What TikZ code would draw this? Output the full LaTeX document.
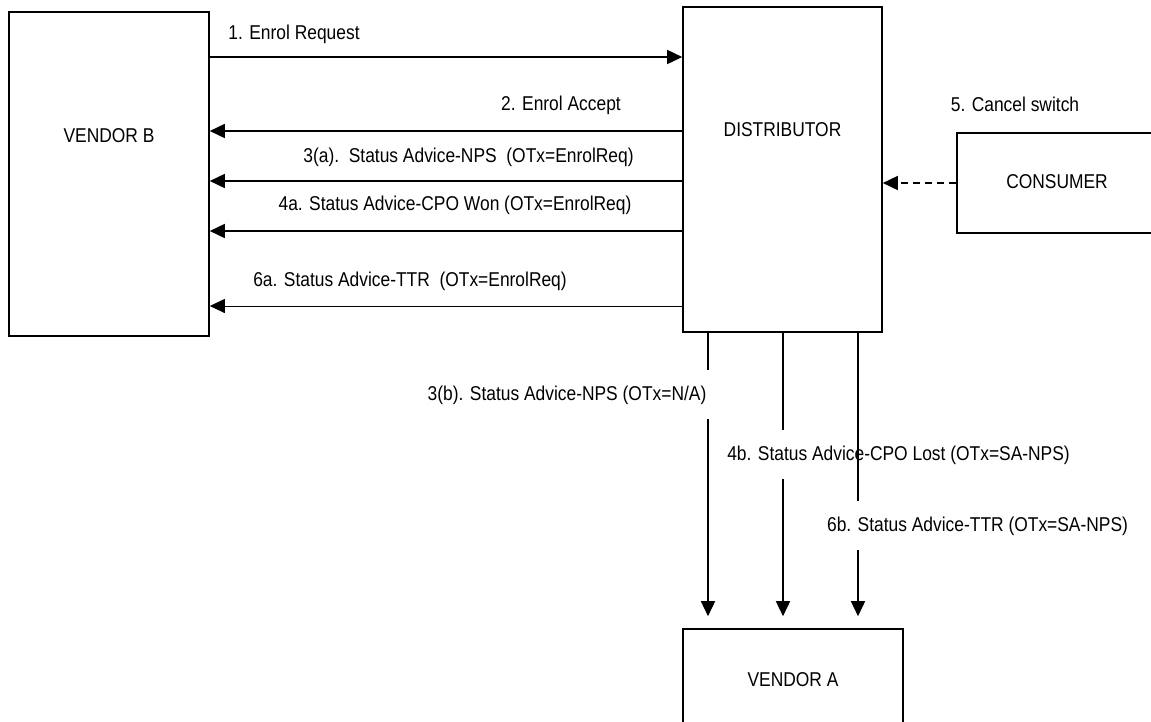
\documentclass[tikz,border=0pt]{standalone}
\usepackage{fontspec}
\setmainfont{Liberation Sans}[FakeStretch=0.87]
\usepackage{tikz}
\usetikzlibrary{positioning,arrows.meta,calc}

\begin{document}
\begin{tikzpicture}[x=1pt,y=-1pt,
  box/.style={draw, line width=1.6pt, inner sep=0pt},
  msg/.style={line width=1.6pt, -{Triangle[length=15pt,width=14pt]}},
  lbl/.style={anchor=base, font=\fontsize{20}{24}\selectfont, inner sep=0pt},
  cut/.style={lbl, fill=white, text height=15pt, text depth=4pt, inner xsep=3pt, inner ysep=15pt}]
\useasboundingbox (0,0) rectangle (1151,721);

% The four parties
\node[box, minimum width=200pt, minimum height=324pt] (vendorb) at (109,174) {};
\node[box, minimum width=199pt, minimum height=325pt] (dist) at (782.5,169.5) {};
\node[box, minimum width=200pt, minimum height=100pt] (consumer) at (1057,183) {};
\node[box, minimum width=220pt, minimum height=98pt] (vendora) at (793,678) {};

\node[lbl] (vbname) at (109,142) {VENDOR B};
\node[lbl] (distname) at (782.5,136) {DISTRIBUTOR};
\node[lbl] (consname) at (1057,188) {CONSUMER};
\node[lbl] (vaname) at (793,686) {VENDOR A};

% Messages between vendor B and the distributor
\draw[msg] (vendorb.east |- 0,57) -- (dist.west |- 0,57);
\draw[msg] (dist.west |- 0,131) -- (vendorb.east |- 0,131);
\draw[msg] (dist.west |- 0,181) -- (vendorb.east |- 0,181);
\draw[msg] (dist.west |- 0,231) -- (vendorb.east |- 0,231);
\draw[msg, line width=1pt] (dist.west |- 0,306) -- (vendorb.east |- 0,306);

\node[lbl] (req) at (294,39) {1. Enrol Request};
\node[lbl] (acc) at (561,110) {2. Enrol Accept};
\node[lbl] (sa3a) at (468.5,162) {3(a).\ \ Status Advice-NPS\ \ (OTx=EnrolReq)};
\node[lbl] (sa4a) at (455,210) {4a. Status Advice-CPO Won (OTx=EnrolReq)};
\node[lbl] (sa6a) at (410,286) {6a. Status Advice-TTR\ \ (OTx=EnrolReq)};

% Consumer cancels
\draw[msg, dashed, dash pattern=on 7pt off 5pt] (consumer.west) -- (consumer.west -| dist.east);
\node[lbl] (cancel) at (1015,111) {5. Cancel switch};

% Messages down to vendor A
\draw[msg, shorten >=12pt] (dist.south -| 708,0) -- (vendora.north -| 708,0);
\draw[msg, shorten >=12pt] (dist.south -| 783,0) -- (vendora.north -| 783,0);
\node[cut] (sa3b) at (567,400) {3(b). Status Advice-NPS (OTx=N/A)};
\node[cut] (sa4b) at (898.5,460) {4b. Status Advice-CPO Lost (OTx=SA-NPS)};
\draw[msg, shorten >=12pt] (dist.south -| 858,0) -- (vendora.north -| 858,0);
\node[cut] (sa6b) at (977.5,531) {6b. Status Advice-TTR (OTx=SA-NPS)};
\end{tikzpicture}
\end{document}
